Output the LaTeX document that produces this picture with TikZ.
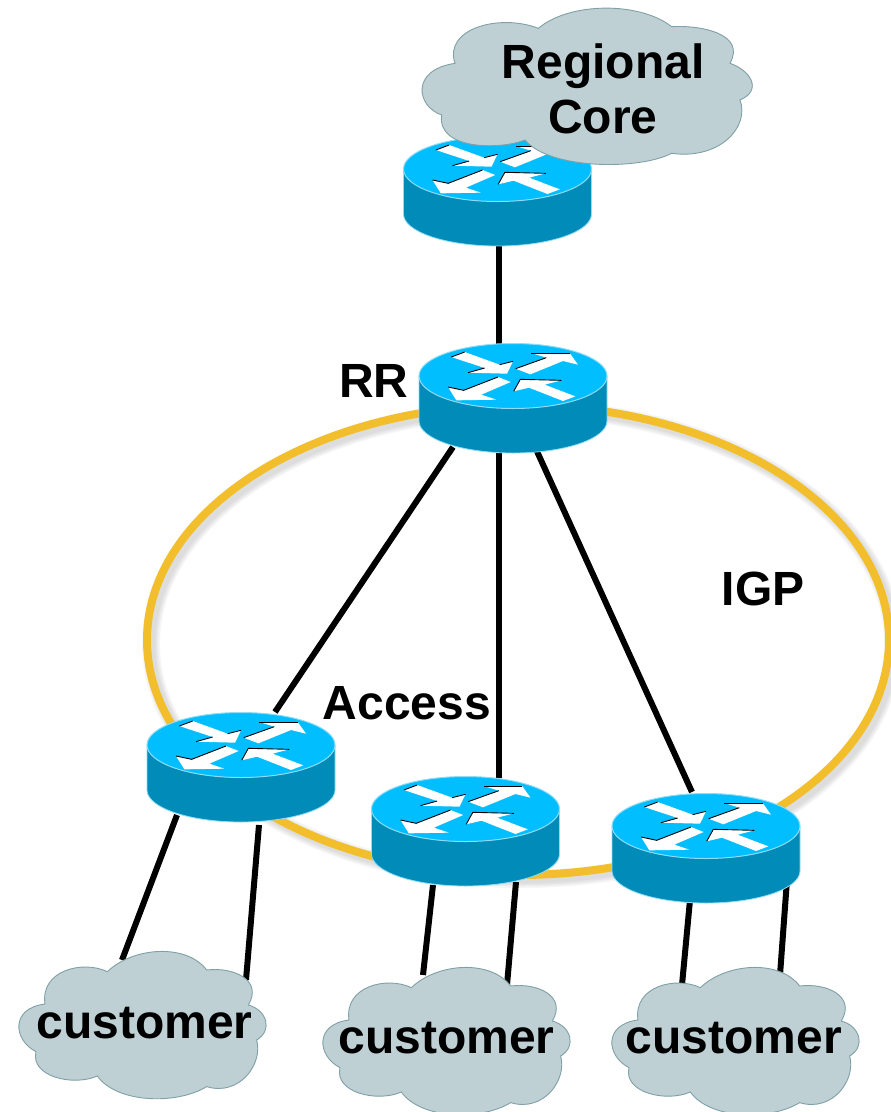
\documentclass[tikz,border=0pt]{standalone}
\usepackage{fontspec}
\setmainfont{Liberation Sans}
\usetikzlibrary{calc}
\pgfdeclarelayer{back}
\pgfsetlayers{back,main}
\definecolor{rtop}{HTML}{00BEFF}
\definecolor{rside}{HTML}{008BB8}
\definecolor{redge}{HTML}{8FDCF6}
\definecolor{cloudfill}{HTML}{BFD0D4}
\definecolor{cloudline}{HTML}{7FA0A6}
\definecolor{ringcol}{HTML}{F2BE2C}
\tikzset{
  x=1pt,y=-1pt,
  link/.style={line width=6pt,black},
  ring/.style={line width=8pt,ringcol},
  ringshade/.style={black,opacity=0.035},
  anchorpt/.style={circle,inner sep=0pt,minimum size=1pt},
  lbl/.style={font=\fontsize{48}{55}\selectfont\bfseries,anchor=base,inner sep=0pt,align=center,text=black},
  cloudshape/.style={fill=cloudfill,draw=cloudline,line width=0.9pt},
  arrowfill/.style={fill=white,draw=none},
  arrowedge/.style={black,line width=0.9pt},
}
\newcommand{\routerbody}[3]{%
  \node[anchorpt] (#1) at (#2,#3) {};
  \begin{scope}[shift={(#2,#3)}]
    \fill[rside] (-94,0) -- (-94,45) arc[start angle=180,end angle=0,x radius=94,y radius=32] -- (94,0) -- cycle;
    \draw[redge,line width=0.8pt] (-94,0) -- (-94,45) arc[start angle=180,end angle=0,x radius=94,y radius=32] -- (94,0);
    \fill[rtop] (0,0) ellipse[x radius=94,y radius=32.5];
    \draw[redge,line width=1pt] (0,0) ellipse[x radius=94,y radius=32.5];
  \end{scope}
  \begin{scope}[shift={(#2,#3)},x=0.3333pt,y=-0.3333pt,shift={(-340,-137)}]
    \fill[arrowfill] (155,80) -- (195,65) -- (300,103) -- (340,93) -- (322,130) -- (205,127) -- (255,113) -- cycle;
    \fill[arrowfill] (348,115) -- (440,82) -- (395,68) -- (510,68) -- (535,103) -- (490,92) -- (392,132) -- cycle;
    \fill[arrowfill] (333,155) -- (295,140) -- (192,180) -- (145,170) -- (170,210) -- (290,208) -- (245,193) -- cycle;
    \fill[arrowfill] (342,183) -- (362,147) -- (485,150) -- (435,163) -- (527,198) -- (490,212) -- (388,172) -- cycle;
    \draw[arrowedge] (155,80) -- (195,65);
    \draw[arrowedge] (205,127) -- (255,113);
    \draw[arrowedge] (300,103) -- (340,93);
    \draw[arrowedge] (348,115) -- (440,82);
    \draw[arrowedge] (395,68) -- (510,68);
    \draw[arrowedge] (295,140) -- (192,180) -- (145,170);
    \draw[arrowedge] (342,183) -- (362,147) -- (485,150);
  \end{scope}
}
\newcommand{\customercloud}[4]{%
  \begin{scope}[shift={(#2,#3)},x=0.3333pt,y=-0.3333pt]
    \draw[cloudshape] (322,125) .. controls (400,50) and (560,40) .. (620,120)
      .. controls (700,110) and (790,150) .. (745,225)
      .. controls (800,240) and (820,300) .. (770,330)
      .. controls (790,400) and (720,500) .. (620,470)
      .. controls (530,525) and (350,520) .. (292,438)
      .. controls (220,470) and (90,440) .. (108,365)
      .. controls (40,330) and (30,235) .. (135,222)
      .. controls (120,120) and (250,90) .. (322,125) -- cycle;
  \end{scope}
  \node[lbl] (#1) at (#4) {customer};
}
\begin{document}
\begin{tikzpicture}
\useasboundingbox (0,0) rectangle (891,1112);
% routers
\routerbody{rcore}{497.5}{169}
\routerbody{rr}{513}{376}
\routerbody{ra}{241}{745}
\routerbody{rb}{465.5}{809}
\routerbody{rc}{706}{826}
% core cloud
\begin{scope}[shift={(400,0)},x=0.3333pt,y=-0.3333pt]
  \draw[cloudshape] (415,85) .. controls (510,5) and (720,5) .. (815,80)
    .. controls (900,75) and (1040,100) .. (990,190)
    .. controls (1050,210) and (1090,270) .. (1020,300)
    .. controls (1050,380) and (960,480) .. (815,460)
    .. controls (720,510) and (450,510) .. (375,420)
    .. controls (300,450) and (110,450) .. (125,345)
    .. controls (50,320) and (30,210) .. (165,190)
    .. controls (130,85) and (300,40) .. (415,85) -- cycle;
\end{scope}
\node[lbl] (core) at (603,133) {Regional\\Core};
% customers
\customercloud{ca}{0}{930}{144.5,1038}
\customercloud{cb}{304}{946}{446.5,1053}
\customercloud{cc}{593}{946}{734,1053}
% labels
\node[lbl] (lrr) at (374,397) {RR};
\node[lbl] (lacc) at (407,719) {Access};
\node[lbl] (ligp) at (763,605) {IGP};
\begin{pgfonlayer}{back}
  \node[anchorpt] (ringc) at (518,640) {};
  \foreach \w in {18,15,12,9}{
    \draw[ringshade,line width=\w pt] ([shift={(4,4)}]ringc.center) ellipse[x radius=371,y radius=235];
  }
  \draw[ring] (ringc.center) ellipse[x radius=371,y radius=235];
  \draw[link] (rcore.center) ++(1.5,0) -- (rr.center -| 499,0);
  \draw[link] ([shift={(-60,71)}]rr.center) -- ([shift={(34,-33)}]ra.center);
  \draw[link] ([shift={(-14,71)}]rr.center) -- ([shift={(33.5,-31)}]rb.center);
  \draw[link] ([shift={(22,71)}]rr.center) -- ([shift={(-14,-34)}]rc.center);
  \draw[link] ([shift={(-64,70)}]ra.center) -- ([shift={(-22.5,-78)}]ca.base);
  \draw[link] ([shift={(18,80)}]ra.center) -- ([shift={(101.5,-58)}]ca.base);
  \draw[link] ([shift={(-32.5,76)}]rb.center) -- ([shift={(-23.5,-78)}]cb.base);
  \draw[link] ([shift={(50.5,73)}]rb.center) -- ([shift={(60.5,-68)}]cb.base);
  \draw[link] ([shift={(-16,74)}]rc.center) -- ([shift={(-52,-68)}]cc.base);
  \draw[link] ([shift={(81,54)}]rc.center) -- ([shift={(46,-78)}]cc.base);
\end{pgfonlayer}
\end{tikzpicture}
\end{document}
